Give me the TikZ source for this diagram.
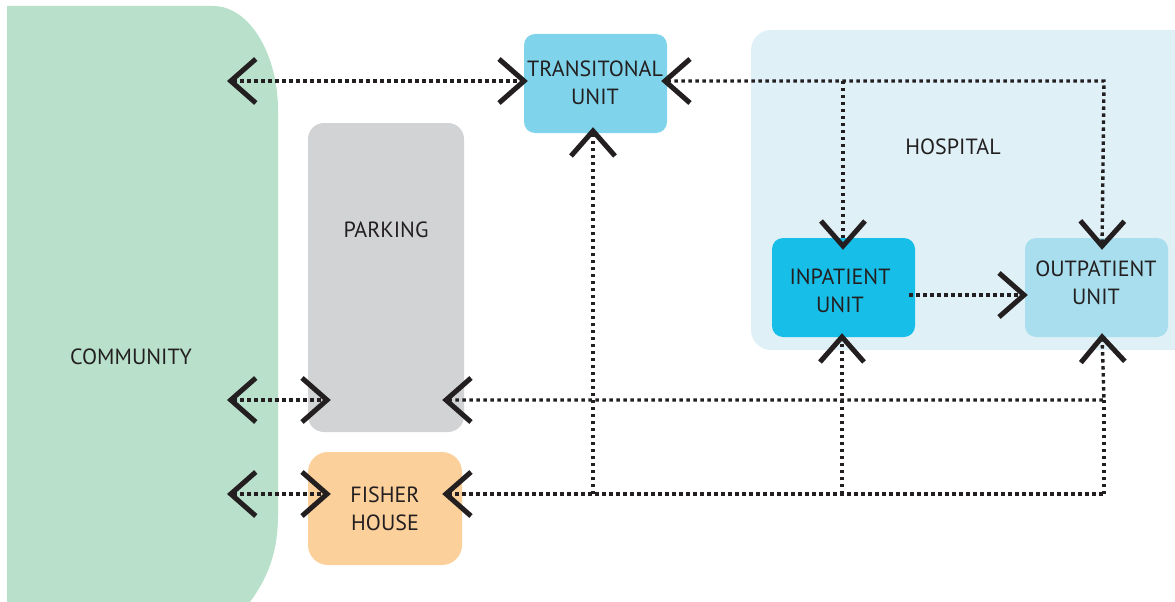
\documentclass[tikz,border=0pt]{standalone}
\usepackage{fontspec}
\setmainfont{PT Sans}
\usetikzlibrary{arrows.meta,calc}
\definecolor{commc}{HTML}{B9E0CB}
\definecolor{transc}{HTML}{7FD4EB}
\definecolor{parkc}{HTML}{D1D3D4}
\definecolor{fishc}{HTML}{FBD09B}
\definecolor{hospc}{HTML}{DFF1F7}
\definecolor{inpc}{HTML}{17BFE8}
\definecolor{outpc}{HTML}{A8DEED}
\definecolor{ink}{HTML}{231F20}
\tikzset{
  box/.style={draw=none,inner sep=0pt,align=center,text=ink,font=\fontsize{22}{28}\selectfont},
  lbl/.style={inner sep=0pt,align=center,text=ink,font=\fontsize{22}{28}\selectfont},
  con/.style={draw=ink,line width=3.4pt,dash pattern=on 3.4pt off 3.6pt},
  chev/.tip={Straight Barb[length=25pt,width=44pt,line width=5pt]},
}
\begin{document}
\begin{tikzpicture}[x=1pt,y=-1pt]
\useasboundingbox (0,0) rectangle (1175,602);
% community
\fill[commc] (7,6) -- (213,6) .. controls (250,6) and (278,55) .. (278,110) -- (278,515) .. controls (278,555) and (266,580) .. (250,602) -- (7,602) -- cycle;
\node[lbl] (community) at (131,357) {COMMUNITY};
% hospital
\fill[hospc,rounded corners=20pt] (751,30) rectangle (1200,350);
\node[lbl] (hosp) at (953,147) {HOSPITAL};
% boxes
\node[box,fill=transc,rounded corners=11pt,minimum width=143pt,minimum height=99pt] (trans) at (595.5,83.5) {};
\node[lbl] (transtxt) at (595,83) {TRANSITONAL\\UNIT};
\node[box,fill=parkc,rounded corners=16pt,minimum width=156pt,minimum height=309pt] (park) at (386,277.5) {};
\node[lbl] (parktxt) at (386,230) {PARKING};
\node[box,fill=fishc,rounded corners=20pt,minimum width=154pt,minimum height=113pt] (fish) at (385,508.5) {FISHER\\HOUSE};
\node[box,fill=inpc,rounded corners=11pt,minimum width=143pt,minimum height=99pt] (inp) at (843.5,287.5) {};
\node[lbl] (inptxt) at (840,290.5) {INPATIENT\\UNIT};
\node[box,fill=outpc,rounded corners=11pt,minimum width=143pt,minimum height=99pt] (outp) at (1096.5,287.5) {};
\node[lbl] (outptxt) at (1096,283) {OUTPATIENT\\UNIT};
% coordinates
\coordinate (cTop) at (227,81);
\coordinate (cMid) at (227,400);
\coordinate (cBot) at (227,494);
\coordinate (jTR) at (1104,81);
\coordinate (jTI) at (843,81);
\coordinate (jMR) at (1104,400);
\coordinate (jBR) at (1104,494);
\coordinate (jBT) at (593,494);
\coordinate (jBI) at (842,494);
% connectors
\draw[con,{chev}-{chev}] (cTop) -- ($(trans.west)+(4,-2.5)$);
\draw[con,{chev}-{chev}] ($(trans.east)+(-6,-2.5)$) -- (jTR) -- ($(outp.north)+(5.5,12)$);
\draw[con,-{chev}] (jTI) -- ($(inp.north)+(-0.5,12)$);
\draw[con,-{chev}] ($(inp.east)+(-6,7.5)$) -- ($(outp.west)+(3,7.5)$);
\draw[con,{chev}-{chev}] (cMid) -- ($(park.west)+(23,122.5)$);
\draw[con,{chev}-{chev}] ($(park.east)+(-22,122.5)$) -- (jMR) -- ($(outp.south)+(5.5,-4)$);
\draw[con] (jBR) -- (jMR);
\draw[con,{chev}-{chev}] (cBot) -- ($(fish.west)+(23,-14.5)$);
\draw[con,{chev}-] ($(fish.east)+(-20,-14.5)$) -- (jBR);
\draw[con,-{chev}] (jBT) -- ($(trans.south)+(-2.5,-6)$);
\draw[con,-{chev}] (jBI) -- ($(inp.south)+(-1.5,-4)$);
\end{tikzpicture}
\end{document}
